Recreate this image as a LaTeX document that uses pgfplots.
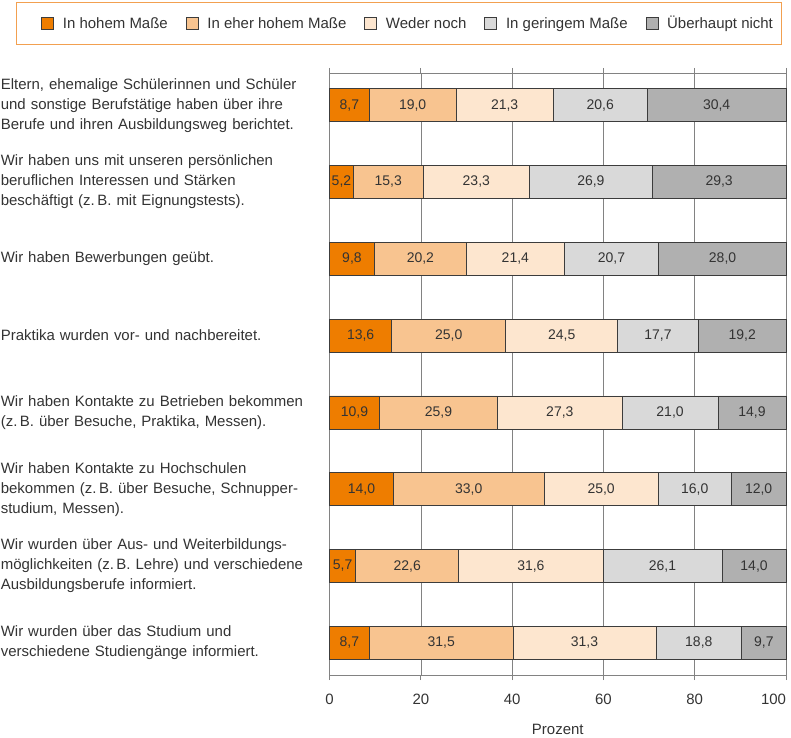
\documentclass[border=0pt]{standalone}
\usepackage{pgfplots}
\pgfplotsset{compat=1.18}
\usepackage{fontspec}
\setmainfont{Liberation Sans}
\definecolor{c1}{RGB}{238,125,0}
\definecolor{c2}{RGB}{248,196,144}
\definecolor{c3}{RGB}{253,230,207}
\definecolor{c4}{RGB}{217,217,217}
\definecolor{c5}{RGB}{176,176,176}
\definecolor{edge}{RGB}{60,60,60}
\definecolor{txt}{RGB}{51,51,51}
\definecolor{axgray}{RGB}{130,130,130}
\definecolor{legorange}{RGB}{242,160,80}
\begin{document}
\begin{tikzpicture}[font=\fontsize{15}{20}\selectfont]
\begin{axis}[
  xbar stacked,
  scale only axis, width=457pt, height=603pt,
  xmin=0, xmax=100, ymin=-0.42, ymax=7.42, y dir=reverse,
  clip=false,
  bar width=0.43,
  ytick={0,1,2,3,4,5,6,7},
  yticklabels={
    {Eltern, ehemalige Schülerinnen und Schüler\\und sonstige Berufstätige haben über ihre\\Berufe und ihren Ausbildungsweg berichtet.},
    {Wir haben uns mit unseren persönlichen\\beruflichen Interessen und Stärken\\beschäftigt (z.\,B. mit Eignungstests).},
    {Wir haben Bewerbungen geübt.},
    {Praktika wurden vor- und nachbereitet.},
    {Wir haben Kontakte zu Betrieben bekommen\\(z.\,B. über Besuche, Praktika, Messen).},
    {Wir haben Kontakte zu Hochschulen\\bekommen (z.\,B. über Besuche, Schnupper-\\studium, Messen).},
    {Wir wurden über Aus- und Weiterbildungs-\\möglichkeiten (z.\,B. Lehre) und verschiedene\\Ausbildungsberufe informiert.},
    {Wir wurden über das Studium und\\verschiedene Studiengänge informiert.}
  },
  yticklabel style={text width=320pt, align=left, inner sep=0pt, xshift=-4pt, text=txt, font=\fontsize{15}{20}\selectfont},
  major y tick style={draw=none},
  xtick={0,20,40,60,80,100},
  xticklabels={0,20,40,60,80,{\hbox to 0pt{\hss 100}}},
  xticklabel style={text=txt, font=\fontsize{15}{16}\selectfont, yshift=-10pt},
  xmajorgrids, grid style={axgray, line width=0.6pt},
  axis line style={axgray, line width=0.8pt},
  tick align=outside, major tick length=5pt,
  major x tick style={axgray, line width=0.8pt},
  xlabel={Prozent}, xlabel style={text=txt, yshift=-13pt, font=\fontsize{15}{16}\selectfont},
  every axis plot/.append style={draw=edge, line width=0.6pt},
  nodes near coords,
  nodes near coords style={text=txt, font=\fontsize{14}{15}\selectfont, /pgf/number format/.cd, fixed, fixed zerofill, precision=1, use comma, assume math mode=true},
  legend columns=5,
  legend image code/.code={\path (0pt,0pt) (38pt,0pt); \draw[#1, draw=edge, line width=0.6pt] (19pt,-6pt) rectangle (31pt,6pt);},
  legend style={at={(axis description cs:-0.6871,1.1177)}, anchor=north west, draw=legorange, line width=0.8pt, inner xsep=6pt, inner ysep=12pt, text=txt, font=\fontsize{15}{17}\selectfont,
    /tikz/every even column/.append style={column sep=-3pt}},
]
\addplot[fill=c1] coordinates {(8.7,0) (5.2,1) (9.8,2) (13.6,3) (10.9,4) (14.0,5) (5.7,6) (8.7,7)};
\addplot[fill=c2] coordinates {(19.0,0) (15.3,1) (20.2,2) (25.0,3) (25.9,4) (33.0,5) (22.6,6) (31.5,7)};
\addplot[fill=c3] coordinates {(21.3,0) (23.3,1) (21.4,2) (24.5,3) (27.3,4) (25.0,5) (31.6,6) (31.3,7)};
\addplot[fill=c4] coordinates {(20.6,0) (26.9,1) (20.7,2) (17.7,3) (21.0,4) (16.0,5) (26.1,6) (18.8,7)};
\addplot[fill=c5] coordinates {(30.4,0) (29.3,1) (28.0,2) (19.2,3) (14.9,4) (12.0,5) (14.0,6) (9.7,7)};
\legend{In hohem Maße, In eher hohem Maße, Weder noch, In geringem Maße, Überhaupt nicht}
\end{axis}
\path (current axis.south west) ++(-330pt,-61pt) coordinate (bbA);
\path (current axis.north east) ++(4pt,73pt) coordinate (bbB);
\path (bbA) rectangle (bbB);
\end{tikzpicture}
\end{document}
